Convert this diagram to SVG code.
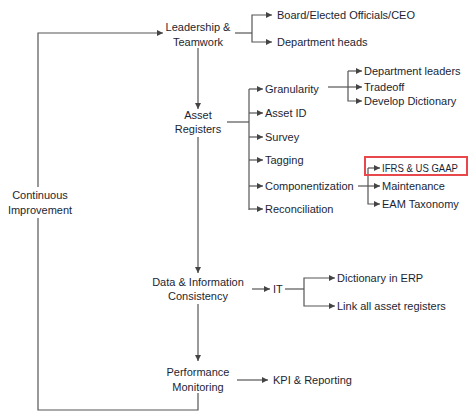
<svg xmlns="http://www.w3.org/2000/svg" width="471" height="414" viewBox="0 0 471 414">
<style>
text{font-family:"Liberation Sans",Arial,sans-serif;font-size:11px;fill:#1c1f33}
.m{text-anchor:middle}
.c{fill:none;stroke:#555;stroke-width:1.2}
.a{fill:none;stroke:#555;stroke-width:1.2;marker-end:url(#ah)}
</style>
<defs>
<marker id="ah" viewBox="0 0 6 6" refX="6" refY="3" markerWidth="6" markerHeight="6" markerUnits="userSpaceOnUse" orient="auto">
<path d="M0,0 L6,3 L0,6 z" fill="#444"/>
</marker>
</defs>
<rect width="471" height="414" fill="#fff"/>
<g id="connectors">
<path class="c" d="M198,393 V410 H38 V218"/>
<path class="a" d="M38,187 V33 H163"/>
<path class="a" d="M198,48 V109"/>
<path class="a" d="M198,137 V273"/>
<path class="a" d="M198,304 V361"/>
<path class="c" d="M235,33 H252"/>
<path class="a" d="M252,33 V15 H272"/>
<path class="a" d="M252,33 V42 H272"/>
<path class="c" d="M227,122 H249"/>
<path class="c" d="M249,89 V210"/>
<path class="a" d="M249,89 H263"/>
<path class="a" d="M249,113 H263"/>
<path class="a" d="M249,137 H263"/>
<path class="a" d="M249,160 H263"/>
<path class="a" d="M249,186 H263"/>
<path class="a" d="M249,209 H263"/>
<path class="c" d="M328,87 H348"/>
<path class="a" d="M348,71 H362"/>
<path class="a" d="M348,87 H362"/>
<path class="a" d="M348,71 V101 H362"/>
<path class="c" d="M358,186 H368"/>
<path class="a" d="M368,168 H380"/>
<path class="a" d="M368,186 H380"/>
<path class="a" d="M368,168 V204 H380"/>
<path class="a" d="M252,289 H270"/>
<path class="c" d="M285,289 H304"/>
<path class="a" d="M304,289 V278 H335"/>
<path class="a" d="M304,289 V306 H335"/>
<path class="a" d="M237,380 H268"/>
</g>
<g id="n-continuous"><text class="m" x="40" y="199">Continuous</text><text class="m" x="40" y="214">Improvement</text></g>
<g id="n-leadership"><text class="m" x="198" y="31">Leadership &amp;</text><text class="m" x="198" y="46">Teamwork</text></g>
<g id="n-board"><text x="277" y="19">Board/Elected Officials/CEO</text></g>
<g id="n-depheads"><text x="277" y="46">Department heads</text></g>
<g id="n-asset"><text class="m" x="198" y="119">Asset</text><text class="m" x="198" y="133">Registers</text></g>
<g id="n-granularity"><text x="265" y="93">Granularity</text></g>
<g id="n-assetid"><text x="265" y="117">Asset ID</text></g>
<g id="n-survey"><text x="265" y="141">Survey</text></g>
<g id="n-tagging"><text x="265" y="164">Tagging</text></g>
<g id="n-component"><text x="265" y="190">Componentization</text></g>
<g id="n-reconciliation"><text x="265" y="213">Reconciliation</text></g>
<g id="n-depleaders"><text x="364" y="75">Department leaders</text></g>
<g id="n-tradeoff"><text x="364" y="91">Tradeoff</text></g>
<g id="n-dictionary"><text x="364" y="105">Develop Dictionary</text></g>
<g id="n-ifrs"><rect x="365" y="157" width="102" height="18" fill="none" stroke="#e8474c" stroke-width="2"/><text x="382" y="172" textLength="76" lengthAdjust="spacingAndGlyphs">IFRS &amp; US GAAP</text></g>
<g id="n-maintenance"><text x="382" y="190">Maintenance</text></g>
<g id="n-eam"><text x="382" y="208">EAM Taxonomy</text></g>
<g id="n-data"><text class="m" x="198" y="286">Data &amp; Information</text><text class="m" x="198" y="300">Consistency</text></g>
<g id="n-it"><text x="273" y="293">IT</text></g>
<g id="n-erp"><text x="337" y="282">Dictionary in ERP</text></g>
<g id="n-link"><text x="337" y="310">Link all asset registers</text></g>
<g id="n-perf"><text class="m" x="198" y="376">Performance</text><text class="m" x="198" y="391">Monitoring</text></g>
<g id="n-kpi"><text x="273" y="384">KPI &amp; Reporting</text></g>
</svg>
